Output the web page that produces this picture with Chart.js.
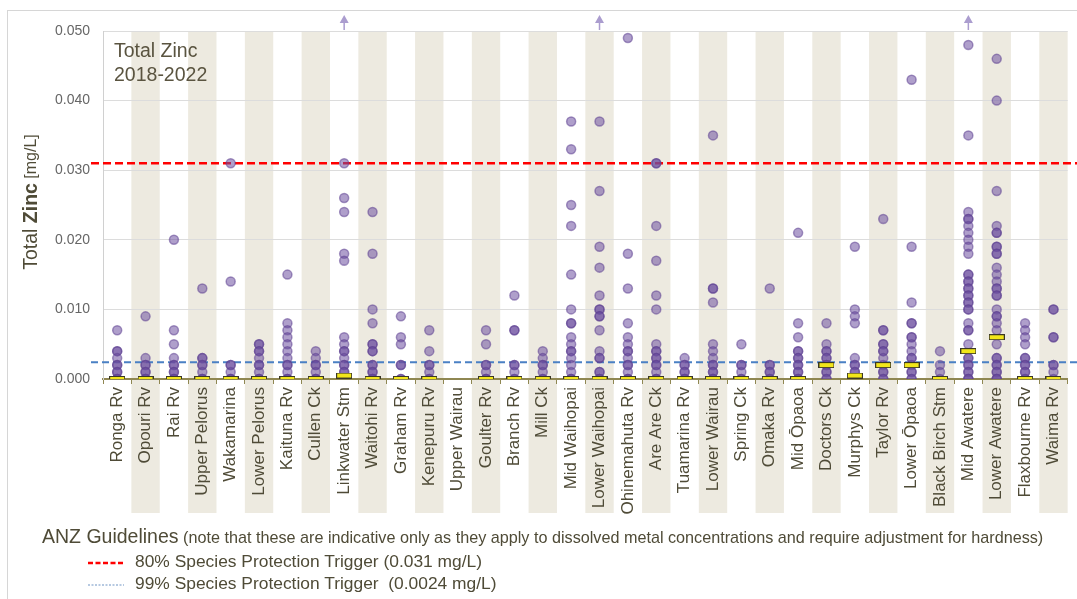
<!DOCTYPE html>
<html>
<head>
<meta charset="utf-8">
<script src="https://cdn.jsdelivr.net/npm/chart.js@4.4.1/dist/chart.umd.min.js"></script>
<style>
  html, body { margin: 0; padding: 0; background: #fff; }
  #wrap { position: relative; width: 1077px; height: 599px; overflow: hidden;
          font-family: "Liberation Sans", Arial, sans-serif; color: #4f4b37; }
  #frame { position: absolute; left: 7px; top: 10px; width: 1100px; height: 620px;
           border: 1px solid #d6d6d6; box-sizing: border-box; }
  canvas { position: absolute; left: 0; top: 0; }
  .title { position: absolute; left: 114px; top: 38px; font-size: 19.5px; line-height: 24px; color: #5a5440; }
  .anz { position: absolute; left: 42px; top: 525px; white-space: nowrap; }
  .anz b { font-weight: normal; font-size: 19.5px; }
  .anz span { font-size: 16.2px; }
  .row { position: absolute; white-space: nowrap; font-size: 17.4px; }
  .row svg { position: absolute; }
</style>
</head>
<body>
<div id="wrap">
  <div id="frame"></div>
  <canvas id="chart" width="1077" height="599"></canvas>
  <div class="title">Total Zinc<br>2018-2022</div>
  <div class="anz"><b>ANZ Guidelines</b> <span>(note that these are indicative only as they apply to dissolved metal concentrations and require adjustment for hardness)</span></div>
  <div class="row" style="left:88px; top:551px;">
    <svg width="40" height="6" style="left:0; top:9px;"><line x1="0" y1="3" x2="36" y2="3" stroke="#ff0000" stroke-width="2.5" stroke-dasharray="5,2.5"/></svg>
    <span style="margin-left:47px;">80% Species Protection Trigger (0.031 mg/L)</span>
  </div>
  <div class="row" style="left:88px; top:573px;">
    <svg width="40" height="6" style="left:0; top:9px;"><line x1="0" y1="3" x2="36" y2="3" stroke="#6f93c4" stroke-width="1.2" stroke-dasharray="2,1.5"/></svg>
    <span style="margin-left:47px;">99% Species Protection Trigger&nbsp; (0.0024 mg/L)</span>
  </div>
</div>
<script>
const sites = [
  "Ronga Rv", "Opouri Rv", "Rai Rv", "Upper Pelorus", "Wakamarina", "Lower Pelorus",
  "Kaituna Rv", "Cullen Ck", "Linkwater Stm", "Waitohi Rv", "Graham Rv", "Kenepuru Rv",
  "Upper Wairau", "Goulter Rv", "Branch Rv", "Mill Ck", "Mid Waihopai", "Lower Waihopai",
  "Ohinemahuta Rv", "Are Are Ck", "Tuamarina Rv", "Lower Wairau", "Spring Ck", "Omaka Rv",
  "Mid Ōpaoa", "Doctors Ck", "Murphys Ck", "Taylor Rv", "Lower Ōpaoa", "Black Birch Stm",
  "Mid Awatere", "Lower Awatere", "Flaxbourne Rv", "Waima Rv"
];

// zinc results per site (mg/L), same order as sites
const readings = [
  [0.007, 0.004, 0.004, 0.003, 0.002, 0.002, 0.001, 0.001, 0, 0, 0],
  [0.009, 0.003, 0.002, 0.002, 0.001, 0.001, 0, 0, 0],
  [0.020, 0.007, 0.005, 0.003, 0.002, 0.002, 0.001, 0.001, 0, 0, 0],
  [0.013, 0.003, 0.003, 0.002, 0.002, 0.001, 0, 0, 0],
  [0.031, 0.014, 0.002, 0.002, 0.001, 0, 0, 0],
  [0.005, 0.005, 0.004, 0.004, 0.003, 0.002, 0.002, 0.001, 0, 0, 0],
  [0.015, 0.008, 0.007, 0.006, 0.005, 0.004, 0.003, 0.002, 0.002, 0.001, 0, 0, 0],
  [0.004, 0.003, 0.002, 0.002, 0.001, 0, 0, 0],
  [0.031, 0.026, 0.024, 0.018, 0.017, 0.006, 0.005, 0.004, 0.004, 0.003, 0.002, 0.002, 0.001, 0.001, 0, 0, 0],
  [0.024, 0.018, 0.010, 0.008, 0.005, 0.005, 0.004, 0.004, 0.002, 0.002, 0.001, 0.001, 0, 0, 0],
  [0.009, 0.006, 0.005, 0.002, 0.002, 0, 0],
  [0.007, 0.004, 0.002, 0.002, 0.001, 0, 0],
  [],
  [0.007, 0.005, 0.002, 0.002, 0.001, 0, 0, 0],
  [0.012, 0.007, 0.007, 0.002, 0.002, 0.001, 0, 0],
  [0.004, 0.003, 0.002, 0.002, 0.001, 0, 0],
  [0.037, 0.033, 0.025, 0.022, 0.015, 0.010, 0.008, 0.008, 0.006, 0.005, 0.004, 0.004, 0.003, 0.002, 0.001, 0, 0, 0],
  [0.037, 0.027, 0.019, 0.016, 0.012, 0.010, 0.010, 0.009, 0.009, 0.007, 0.004, 0.003, 0.003, 0.001, 0.001, 0, 0, 0],
  [0.049, 0.018, 0.013, 0.008, 0.006, 0.005, 0.004, 0.004, 0.003, 0.002, 0.002, 0.001, 0, 0, 0],
  [0.031, 0.031, 0.022, 0.017, 0.012, 0.010, 0.005, 0.004, 0.004, 0.003, 0.003, 0.002, 0.002, 0.001, 0, 0, 0],
  [0.003, 0.002, 0.002, 0.001, 0.001, 0, 0, 0],
  [0.035, 0.013, 0.013, 0.011, 0.005, 0.004, 0.003, 0.002, 0.002, 0.001, 0.001, 0, 0, 0],
  [0.005, 0.002, 0.002, 0.001, 0, 0],
  [0.013, 0.002, 0.002, 0.001, 0.001, 0, 0],
  [0.021, 0.008, 0.006, 0.004, 0.004, 0.003, 0.003, 0.002, 0.002, 0.001, 0.001, 0, 0, 0],
  [0.008, 0.005, 0.004, 0.004, 0.003, 0.003, 0.002, 0.002, 0.001, 0.001, 0, 0],
  [0.019, 0.010, 0.009, 0.008, 0.003, 0.002, 0.002, 0.001, 0.001, 0, 0, 0],
  [0.023, 0.007, 0.007, 0.005, 0.005, 0.004, 0.004, 0.003, 0.002, 0.001, 0.001, 0, 0],
  [0.043, 0.019, 0.011, 0.008, 0.008, 0.006, 0.006, 0.005, 0.004, 0.003, 0.003, 0.002, 0.001, 0.001, 0, 0],
  [0.004, 0.002, 0.001, 0],
  [0.048, 0.035, 0.024, 0.023, 0.023, 0.022, 0.021, 0.020, 0.019, 0.018, 0.015, 0.015, 0.014, 0.014,
   0.013, 0.013, 0.012, 0.012, 0.011, 0.011, 0.010, 0.010, 0.008, 0.007, 0.007, 0.005, 0.003, 0.003,
   0.002, 0.002, 0.001, 0.001, 0, 0, 0],
  [0.046, 0.040, 0.027, 0.022, 0.021, 0.021, 0.019, 0.019, 0.018, 0.018, 0.016, 0.015, 0.014, 0.013,
   0.013, 0.012, 0.012, 0.010, 0.009, 0.009, 0.008, 0.007, 0.005, 0.003, 0.003, 0.002, 0.002, 0.001,
   0.001, 0, 0, 0],
  [0.008, 0.007, 0.006, 0.005, 0.003, 0.003, 0.002, 0.002, 0.001, 0.001, 0, 0],
  [0.010, 0.010, 0.006, 0.006, 0.002, 0.002, 0.001, 0]
];

const medians = [
  0, 0, 0, 0, 0, 0, 0, 0, 0.0005, 0, 0, 0, null, 0, 0, 0, 0, 0,
  0, 0, 0, 0, 0, 0, 0, 0.002, 0.0005, 0.002, 0.002, 0, 0.004, 0.006, 0, 0
];

// sites with a result above the top of the scale
const offScale = ["Linkwater Stm", "Lower Waihopai", "Mid Awatere"];

const trigger80 = 0.031;
const trigger99 = 0.0024;
const yMin = 0, yMax = 0.05, yStep = 0.01;

const pointData = [];
readings.forEach((vals, i) => vals.forEach(v => pointData.push({ x: sites[i], y: v })));
const medianData = medians.map((m, i) => m === null ? null : { x: sites[i], y: m }).filter(Boolean);

// median marker: small yellow bar
const medianMark = document.createElement("canvas");
medianMark.width = 16; medianMark.height = 6;
(function () {
  const c = medianMark.getContext("2d");
  c.fillStyle = "#f2e61a";
  c.fillRect(0.5, 0.5, 15, 5);
  c.strokeStyle = "#3b3826";
  c.lineWidth = 1;
  c.strokeRect(0.5, 0.5, 15, 5);
})();

const bands = {
  id: "bands",
  beforeDraw(chart) {
    const { ctx, chartArea } = chart;
    const xs = chart.scales.x;
    const w = (chartArea.right - chartArea.left) / sites.length;
    ctx.save();
    ctx.fillStyle = "#edeae0";
    sites.forEach((s, i) => {
      if (i % 2 === 1) {
        const cx = xs.getPixelForValue(i);
        ctx.fillRect(cx - w / 2, chartArea.top, w, 513 - chartArea.top);
      }
    });
    ctx.restore();
  }
};

const guides = {
  id: "guides",
  beforeDatasetsDraw(chart) {
    const { ctx } = chart;
    const ys = chart.scales.y;
    ctx.save();
    let y = ys.getPixelForValue(trigger80);
    ctx.strokeStyle = "#ff0000";
    ctx.lineWidth = 2.5;
    ctx.setLineDash([8, 4]);
    ctx.beginPath(); ctx.moveTo(91, y); ctx.lineTo(1077, y); ctx.stroke();
    y = ys.getPixelForValue(trigger99);
    ctx.strokeStyle = "#4a80c4";
    ctx.lineWidth = 2;
    ctx.setLineDash([7, 4]);
    ctx.beginPath(); ctx.moveTo(91, y); ctx.lineTo(1077, y); ctx.stroke();
    ctx.restore();
  }
};

const extras = {
  id: "extras",
  afterDraw(chart) {
    const { ctx, chartArea } = chart;
    const xs = chart.scales.x;
    ctx.save();
    // off-scale arrows
    ctx.strokeStyle = "#ab9dcf";
    ctx.fillStyle = "#ab9dcf";
    ctx.lineWidth = 1.5;
    offScale.forEach(name => {
      const x = xs.getPixelForValue(sites.indexOf(name));
      const t = chartArea.top;
      ctx.beginPath(); ctx.moveTo(x, t - 1); ctx.lineTo(x, t - 10); ctx.stroke();
      ctx.beginPath();
      ctx.moveTo(x, t - 16); ctx.lineTo(x - 4.5, t - 8); ctx.lineTo(x + 4.5, t - 8);
      ctx.closePath(); ctx.fill();
    });
    // y axis title
    ctx.translate(32, 202);
    ctx.rotate(-Math.PI / 2);
    ctx.fillStyle = "#4f4b37";
    ctx.textBaseline = "middle";
    const parts = [
      ["Total ", "19.5px 'Liberation Sans', Arial"],
      ["Zinc", "bold 19.5px 'Liberation Sans', Arial"],
      [" [mg/L]", "16px 'Liberation Sans', Arial"]
    ];
    let total = 0;
    parts.forEach(p => { ctx.font = p[1]; total += ctx.measureText(p[0]).width; });
    let x = -total / 2;
    parts.forEach(p => { ctx.font = p[1]; ctx.fillText(p[0], x, 0); x += ctx.measureText(p[0]).width; });
    ctx.restore();
  }
};

Chart.defaults.font.family = "'Liberation Sans', Arial, sans-serif";

new Chart(document.getElementById("chart"), {
  type: "scatter",
  data: {
    labels: sites,
    datasets: [
      {
        label: "Median",
        data: medianData,
        pointStyle: medianMark,
        pointRadius: 8,
        order: 0
      },
      {
        label: "Total Zinc",
        data: pointData,
        pointRadius: 4.5,
        pointBorderWidth: 1.5,
        backgroundColor: "rgba(110,80,160,0.55)",
        borderColor: "rgba(95,65,145,0.55)",
        order: 1
      }
    ]
  },
  options: {
    responsive: false,
    animation: false,
    events: [],
    layout: { padding: { top: 31, right: 7, left: 0, bottom: 0 } },
    plugins: { legend: { display: false }, tooltip: { enabled: false } },
    scales: {
      x: {
        type: "category",
        offset: true,
        z: 1,
        grid: { offset: true, drawOnChartArea: false, color: "#8f8752", tickLength: 5 },
        border: { color: "#8f8752", width: 2 },
        ticks: { autoSkip: false, maxRotation: 90, minRotation: 90, padding: 3,
                 color: "#4f4b37", font: { size: 17 } },
        afterFit(scale) { scale.height = 220; }
      },
      y: {
        min: yMin,
        max: yMax,
        grid: { color: "#dcdcdc", drawTicks: false },
        border: { color: "#d0d0d0" },
        ticks: { stepSize: yStep, padding: 13, color: "#666666", font: { size: 14 },
                 callback: v => Number(v).toFixed(3) },
        afterFit(scale) { scale.width = 103; }
      }
    }
  },
  plugins: [bands, guides, extras]
});
</script>
</body>
</html>
